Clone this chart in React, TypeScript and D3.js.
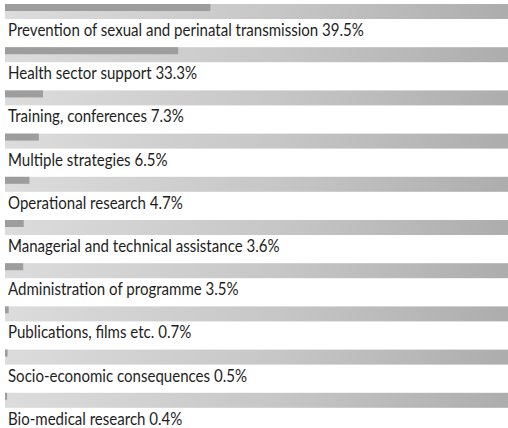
import React, { useRef, useEffect } from 'react'
import * as d3 from 'd3'

const categories = [
  'Prevention of sexual and perinatal transmission',
  'Health sector support',
  'Training, conferences',
  'Multiple strategies',
  'Operational research',
  'Managerial and technical assistance',
  'Administration of programme',
  'Publications, films etc.',
  'Socio-economic consequences',
  'Bio-medical research',
]
const shares = [39.5, 33.3, 7.3, 6.5, 4.7, 3.6, 3.5, 0.7, 0.5, 0.4]

const W = 508
const H = 428

const App = () => {
  const svgRef = useRef<SVGSVGElement>(null)

  useEffect(() => {
    const svg = d3.select(svgRef.current)
    svg.selectAll('*').remove()

    const x = d3.scaleLinear().domain([0, 100]).range([5, 525])
    const y = d3.scaleBand<number>()
      .domain(d3.range(categories.length))
      .range([4, 4 + 43.2 * categories.length])
      .paddingInner(0)

    const defs = svg.append('defs')
    const grad = defs.append('linearGradient').attr('id', 'bg').attr('x1', 0).attr('x2', 1)
    grad.append('stop').attr('offset', '0%').attr('stop-color', '#dcdcdc')
    grad.append('stop').attr('offset', '55%').attr('stop-color', '#c6c6c6')
    grad.append('stop').attr('offset', '100%').attr('stop-color', '#adadad')

    const rows = svg.selectAll('.row')
      .data(shares)
      .join('g')
      .attr('class', 'row')
      .attr('transform', (d, i) => `translate(0,${y(i)})`)

    // full-width track
    rows.append('rect')
      .attr('x', x(0))
      .attr('y', 0)
      .attr('width', W - x(0))
      .attr('height', 15)
      .attr('fill', 'url(#bg)')

    // value bar
    rows.append('rect')
      .attr('x', x(0))
      .attr('y', 0)
      .attr('width', d => Math.max(1.5, x(d) - x(0)))
      .attr('height', 7)
      .attr('fill', '#9d9d9d')

    // label, squeezed a bit to match the narrow original typeface
    rows.append('text')
      .attr('transform', 'translate(8,32) scale(0.885,1)')
      .attr('fill', '#1e1e1e')
      .style('font-family', 'Lato, "Open Sans", sans-serif')
      .style('font-size', '17px')
      .text((d, i) => `${categories[i]} ${d}%`)
  }, [])

  return (
    <div style={{ position: 'absolute', left: 0, top: 0, background: '#fff' }}>
      <svg ref={svgRef} width={W} height={H} />
    </div>
  )
}

export default App
